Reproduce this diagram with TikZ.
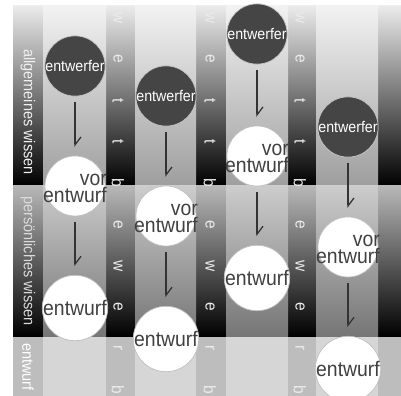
\documentclass[tikz,border=0pt]{standalone}
\usepackage{fontspec}
\setmainfont{Liberation Sans}
\newfontfamily\narrowsf[FakeStretch=0.92]{Liberation Sans}
\usepackage{tikz}
\usetikzlibrary{arrows.meta}
\tikzset{
  %% Band cells (stripe = narrow dark column, col = wide column)
  stripeTop/.style={top color=black!8, bottom color=black},
  colTop/.style={top color=black!5, bottom color=black!38},
  stripeMid/.style={top color=black!28, bottom color=black},
  colMid/.style={top color=black!20, bottom color=black!54},
  stripeBot/.style={fill=black!26},
  colBot/.style={fill=black!16},
  %% Circles
  actor/.style={circle, draw=gray!45, line width=0.5pt, fill=black!73,
    minimum size=15mm, inner sep=0pt, text=white,
    font=\narrowsf\fontsize{11}{12}\selectfont},
  draft/.style={circle, draw=gray!50, line width=0.5pt, fill=white,
    minimum size=15mm, inner sep=0pt, text=black!75,
    font=\narrowsf\fontsize{15}{12}\selectfont},
  draftText/.style={inner sep=0pt, align=right, text=black!75, yshift=-0.5mm,
    font=\narrowsf\fontsize{15}{12}\selectfont},
  %% Side labels and spelled letters
  side/.style={rotate=-90, inner sep=0pt, font=\narrowsf\fontsize{11.2}{13}\selectfont},
  letter/.style={rotate=-90, inner sep=0pt, text=white!92!black,
    font=\narrowsf\fontsize{12}{13}\selectfont},
  %% Harpoon arrows
  flow/.style={-{Straight Barb[left, length=2mm, width=3mm]}, line width=0.9pt,
    draw=black!80, shorten <=1.5mm, shorten >=2.2mm},
}

\begin{document}
\begin{tikzpicture}[x=0.25mm, y=-0.25mm]
\useasboundingbox (0,0) rectangle (401,396);

%% three bands
\foreach \a/\b in {13/43, 106/135, 196/226, 288/316, 378/401} {
  \path[stripeTop] (\a,6) rectangle (\b,186);
  \path[stripeMid] (\a,186) rectangle (\b,337);
  \path[stripeBot] (\a,337) rectangle (\b,396);
}
\foreach \a/\b in {43/106, 135/196, 226/288, 316/378} {
  \path[colTop] (\a,6) rectangle (\b,186);
  \path[colMid] (\a,186) rectangle (\b,337);
  \path[colBot] (\a,337) rectangle (\b,396);
}

\node[side, text=gray!12] (lAll)  at (28,112) {allgemeines wissen};
\node[side, text=gray!28] (lPers) at (28,261) {persönliches wissen};
\node[side, text=white]   (lEnt)  at (28,367) {entwurf};

\foreach \x [count=\k] in {118, 210, 300}
  \foreach \ch [count=\i] in {w,e,t,t,b,e,w,e,r,b}
    \node[letter] (l\k-\i) at (\x, {18+(\i-1)*41.3}) {\ch};

%% entwerfer
\node[actor] (eA) at ( 75, 66) {entwerfer};
\node[actor] (eB) at (166, 96) {entwerfer};
\node[actor] (eC) at (257, 34) {entwerfer};
\node[actor] (eD) at (348,127) {entwerfer};

%% vor entwurf
\node[draft] (vA) at ( 75,186) {};
\node[draft] (vB) at (166,216) {};
\node[draft] (vC) at (257,156) {};
\node[draft] (vD) at (348,247) {};
\foreach \c in {A,B,C,D}
  \node[draftText] (v\c t) at (v\c) {vor\\entwurf};

%% entwurf
\node[draft] (nA) at ( 75,308) {entwurf};
\node[draft] (nB) at (166,339) {entwurf};
\node[draft] (nC) at (257,278) {entwurf};
\node[draft] (nD) at (348,369) {entwurf};

\foreach \c in {A,B,C,D} {
  \draw[flow] (e\c) -- (v\c);
  \draw[flow] (v\c) -- (n\c);
}

\end{tikzpicture}
\end{document}
